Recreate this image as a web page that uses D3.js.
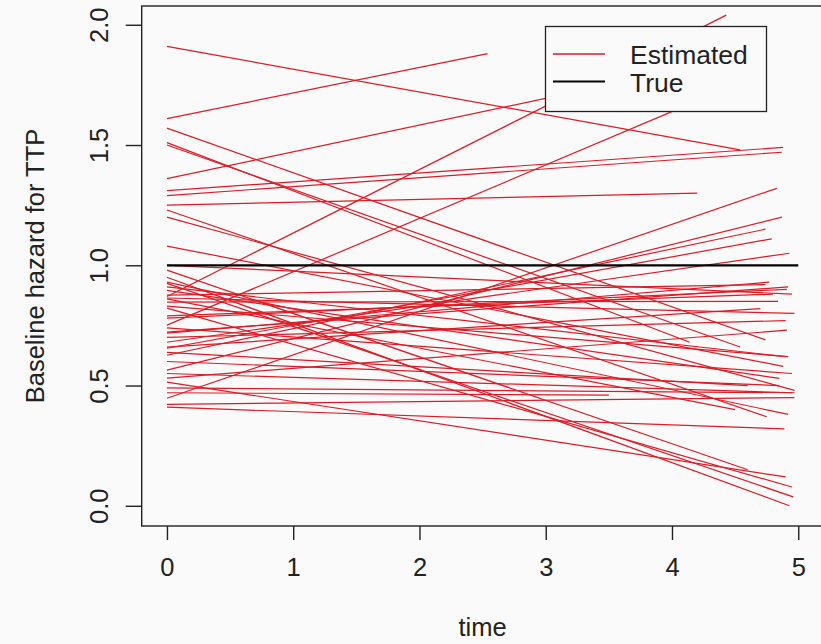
<!DOCTYPE html>
<html>
<head>
<meta charset="utf-8">
<script src="https://cdn.jsdelivr.net/npm/d3@7"></script>
<style>
  html, body { margin: 0; padding: 0; background: #fafafa; }
  svg { display: block; font-family: "Liberation Sans", Arial, sans-serif; }
</style>
</head>
<body>
<svg id="chart" width="821" height="644"></svg>
<script>
// ---- data ----
const xTicks = [0, 1, 2, 3, 4, 5];
const yTicks = [0.0, 0.5, 1.0, 1.5, 2.0];
const legendLabels = ["Estimated", "True"];
const trueHazard = [[0, 1.0], [5, 1.0]];
// each estimated line: start (x, y) and end (x, y)
const estStartX = [0,0,0,0,0,0,0,0,0,0,0,0,0,0,0,0,0,0,0,0,0,0,0,0,0,0,0,0,0,0,0,0,0,0,0,0,0,0,0,0,0,0,0,0,0,0,0,0];
const estStartY = [1.91,1.61,1.57,1.51,1.50,1.36,1.31,1.29,1.25,1.23,1.20,1.08,0.95,0.93,0.925,0.91,0.896,0.876,0.87,0.864,0.847,0.822,0.780,0.751,0.722,0.718,0.680,0.655,0.638,0.626,0.564,0.531,0.514,0.447,0.422,0.410,
                   0.55,0.49,0.47,0.60,0.83,0.79,0.70,0.98,0.86,0.66,1.00,0.74];
const estEndX   = [4.54,2.54,4.74,4.14,4.54,3.50,4.88,4.87,4.20,4.75,4.97,4.88,4.93,4.92,4.96,4.90,4.85,4.74,4.43,4.97,4.84,4.95,4.91,4.50,4.92,4.77,4.93,4.79,4.60,4.74,4.87,4.91,4.90,4.83,4.97,4.89,
                   4.97,4.95,3.50,4.85,4.92,4.80,4.90,4.60,4.50,4.70,4.95,4.95];
const estEndY   = [1.48,1.88,0.69,0.68,0.66,1.75,1.49,1.47,1.30,0.37,0.48,0.58,0.00,0.38,0.037,0.62,0.53,0.92,2.04,0.80,0.85,0.078,0.90,1.75,0.91,0.93,1.05,1.11,0.50,1.15,1.20,0.73,0.12,1.32,0.45,0.32,
                   0.47,0.47,0.46,0.50,0.62,0.88,0.77,0.15,0.40,0.82,0.88,0.55];

const W = 821, H = 644;
const svg = d3.select("#chart");
const bg = "#fafafa";
const red = "#dc1c24";
const fontSize = 25.5;

svg.append("rect").attr("width", W).attr("height", H).attr("fill", bg);

const x = d3.scaleLinear().domain([-0.2, 5.2]).range([141.7, 823.5]);
const y = d3.scaleLinear().domain([-0.084, 2.078]).range([526, 6]);

// estimated lines
const lines = estStartY.map((v, i) => [[estStartX[i], v], [estEndX[i], estEndY[i]]]);
const lineGen = d3.line().x(d => x(d[0])).y(d => y(d[1]));
svg.append("g").selectAll("path").data(lines).join("path")
  .attr("d", lineGen).attr("fill", "none").attr("stroke", red).attr("stroke-width", 1.2);

// true line
svg.append("path").attr("d", lineGen(trueHazard)).attr("fill", "none")
  .attr("stroke", "#000").attr("stroke-width", 2.2);

// legend
const lg = svg.append("g");
lg.append("rect").attr("x", 545.5).attr("y", 26.5).attr("width", 221).attr("height", 85)
  .attr("fill", bg).attr("stroke", "#222").attr("stroke-width", 1.3);
const legendColors = [red, "#000"];
legendLabels.forEach((lab, i) => {
  const ly = 54 + i * 27.5;
  lg.append("line").attr("x1", 553).attr("x2", 605).attr("y1", ly).attr("y2", ly)
    .attr("stroke", legendColors[i]).attr("stroke-width", i === 0 ? 1.6 : 2.2);
  lg.append("text").attr("x", 630).attr("y", ly + 10).attr("font-size", 26.5)
    .attr("fill", "#222").text(lab);
});

// plot box
svg.append("rect").attr("x", 141.7).attr("y", 6).attr("width", 823.5 - 141.7).attr("height", 520)
  .attr("fill", "none").attr("stroke", "#222").attr("stroke-width", 1.4);

// x axis
const xAxis = svg.append("g").attr("transform", "translate(0,526)")
  .call(d3.axisBottom(x).tickValues(xTicks).tickFormat(d3.format("d")).tickSize(14).tickPadding(18));
xAxis.select(".domain").remove();
xAxis.selectAll("line").attr("stroke", "#222").attr("stroke-width", 1.4);
xAxis.selectAll("text").attr("font-size", fontSize).attr("font-family", "Liberation Sans, Arial, sans-serif")
  .attr("fill", "#222");

// y axis
const yAxis = svg.append("g").attr("transform", "translate(141.7,0)")
  .call(d3.axisLeft(y).tickValues(yTicks).tickFormat(d3.format(".1f")).tickSize(16));
yAxis.select(".domain").remove();
yAxis.selectAll("line").attr("stroke", "#222").attr("stroke-width", 1.4);
yAxis.selectAll("text")
  .attr("transform", "rotate(-90)").attr("x", 0).attr("y", -34).attr("dy", null)
  .attr("text-anchor", "middle").attr("font-size", fontSize)
  .attr("font-family", "Liberation Sans, Arial, sans-serif").attr("fill", "#222");

// axis titles
svg.append("text").attr("x", (141.7 + 823.5) / 2).attr("y", 636).attr("text-anchor", "middle")
  .attr("font-size", fontSize).attr("fill", "#222").text("time");
svg.append("text").attr("transform", `translate(44,266) rotate(-90)`).attr("text-anchor", "middle")
  .attr("font-size", fontSize).attr("fill", "#222").text("Baseline hazard for TTP");
</script>
</body>
</html>
